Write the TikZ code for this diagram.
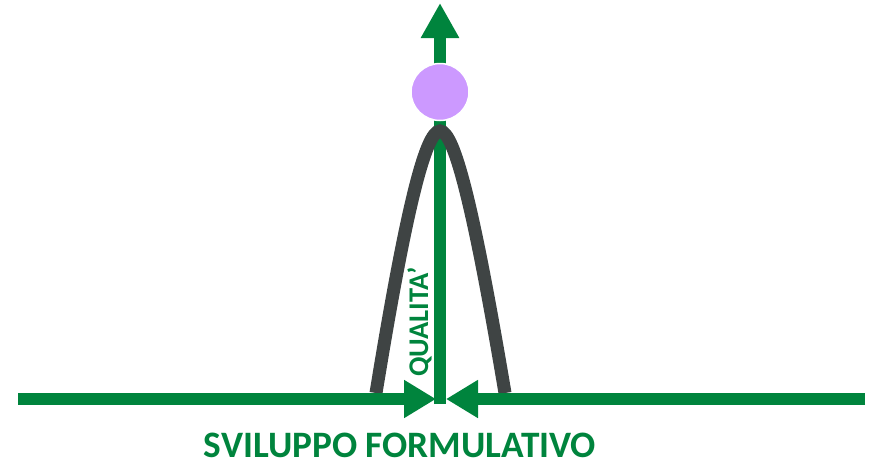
\documentclass[tikz,border=0pt]{standalone}
\usepackage{fontspec}
\setmainfont{Carlito}
\usetikzlibrary{arrows.meta,shapes.geometric}
\definecolor{qgreen}{RGB}{0,132,61}
\definecolor{qgray}{RGB}{63,68,68}
\definecolor{qpurple}{RGB}{204,153,255}
\tikzset{
  gline/.style={draw=qgreen, line width=12pt},
  harrow/.style={gline, -{Triangle[length=32pt,width=36pt]}},
  varrow/.style={gline, -{Triangle[length=35pt,width=36pt]}},
  bell/.style={draw=qgray, line width=13pt},
  lbl/.style={text=qgreen, inner sep=0pt},
}
\begin{document}
\begin{tikzpicture}[x=1pt,y=-1pt]
\useasboundingbox (0,0) rectangle (874,469);
% coordinates
\coordinate (hl) at (18,399);
\coordinate (hr) at (865,399);
\coordinate (tl) at (436,399);
\coordinate (tr) at (446,399);
\coordinate (vb) at (440,404);
\coordinate (vt) at (440,3);
\coordinate (bl) at (376,393);
\coordinate (br) at (505,393);
\coordinate (apex) at (440,131);
% vertical arrow
\draw[varrow] (vb) -- (vt);
% bell curve
\draw[bell] (bl) .. controls (405,215) and (425,131) .. (apex)
  .. controls (455,131) and (475,215) .. (br);
% horizontal arrows
\draw[harrow] (hl) -- (tl);
\draw[harrow] (hr) -- (tr);
% circle
\node[ellipse, minimum width=58pt, minimum height=57pt, inner sep=0pt, fill=qpurple, draw=white, line width=1.5pt] (dot) at (440,92) {};
% labels
\node[lbl, font=\bfseries\fontsize{28.5}{28.5}\selectfont, rotate=90, anchor=base] (q) at (428,322) {QUALITA’};
\node[lbl, font=\bfseries\fontsize{37.3}{37.3}\selectfont, anchor=base] (sf) at (400,457) {SVILUPPO FORMULATIVO};
\end{tikzpicture}
\end{document}
